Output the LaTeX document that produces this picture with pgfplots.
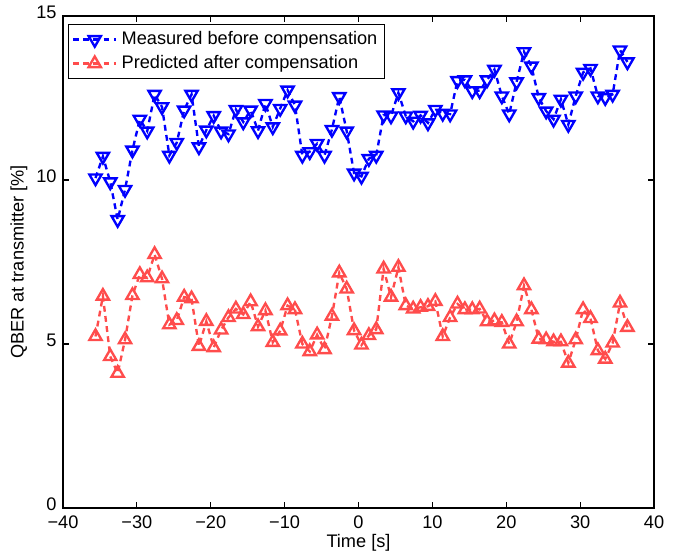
\documentclass[border=0pt]{standalone}
\usepackage{fontspec}
\setmainfont{Liberation Sans}
\usepackage{pgfplots}
\usepackage{pgfplotstable}
\pgfplotsset{compat=1.18}
\definecolor{mblue}{rgb}{0,0,1}
\definecolor{mred}{rgb}{1,0.3,0.3}
\pgfplotstableread{
x y
-35.6 10.06
-34.6 10.72
-33.6 9.94
-32.6 8.79
-31.6 9.71
-30.6 10.91
-29.6 11.85
-28.6 11.49
-27.6 12.61
-26.6 12.23
-25.6 10.75
-24.6 11.14
-23.6 12.13
-22.6 12.61
-21.6 11.01
-20.6 11.52
-19.6 11.96
-18.6 11.49
-17.6 11.40
-16.6 12.15
-15.6 11.77
-14.6 12.13
-13.6 11.50
-12.6 12.33
-11.6 11.62
-10.6 12.18
-9.6 12.74
-8.6 12.28
-7.6 10.75
-6.6 10.86
-5.6 11.11
-4.6 10.75
-3.6 11.54
-2.6 12.54
-1.6 11.49
-0.6 10.21
0.4 10.11
1.4 10.65
2.4 10.75
3.4 11.98
4.4 11.95
5.4 12.66
6.4 11.95
7.4 11.79
8.4 11.97
9.4 11.74
10.4 12.15
11.4 12.03
12.4 12.01
13.4 13.03
14.4 13.05
15.4 12.72
16.4 12.72
17.4 13.05
18.4 13.37
19.4 12.56
20.4 12.01
21.4 12.99
22.4 13.91
23.4 13.47
24.4 12.51
25.4 12.10
26.4 11.85
27.4 12.46
28.4 11.69
29.4 12.56
30.4 13.28
31.4 13.40
32.4 12.56
33.4 12.51
34.4 12.61
35.4 13.96
36.4 13.60
}\measured
\pgfplotstableread{
x y
-35.6 5.23
-34.6 6.46
-33.6 4.62
-32.6 4.11
-31.6 5.13
-30.6 6.48
-29.6 7.12
-28.6 7.02
-27.6 7.73
-26.6 6.99
-25.6 5.59
-24.6 5.72
-23.6 6.43
-22.6 6.38
-21.6 4.93
-20.6 5.69
-19.6 4.89
-18.6 5.43
-17.6 5.81
-16.6 6.07
-15.6 5.90
-14.6 6.29
-13.6 5.53
-12.6 6.02
-11.6 5.05
-10.6 5.40
-9.6 6.17
-8.6 6.05
-7.6 5.00
-6.6 4.77
-5.6 5.28
-4.6 4.83
-3.6 5.85
-2.6 7.17
-1.6 6.68
-0.6 5.41
0.4 4.97
1.4 5.26
2.4 5.44
3.4 7.29
4.4 6.43
5.4 7.34
6.4 6.17
7.4 6.07
8.4 6.12
9.4 6.15
10.4 6.30
11.4 5.23
12.4 5.81
13.4 6.22
14.4 6.05
15.4 6.05
16.4 6.07
17.4 5.68
18.4 5.71
19.4 5.66
20.4 5.00
21.4 5.68
22.4 6.78
23.4 6.05
24.4 5.15
25.4 5.13
26.4 5.07
27.4 5.07
28.4 4.42
29.4 5.13
30.4 6.05
31.4 5.78
32.4 4.80
33.4 4.54
34.4 5.03
35.4 6.25
36.4 5.51
}\predicted
\begin{document}
\begin{tikzpicture}
\begin{axis}[
  scale only axis,
  width=325.05pt, height=270.6pt,
  xmin=-40, xmax=40, ymin=0, ymax=15,
  xtick={-40,-30,-20,-10,0,10,20,30,40},
  xticklabels={−40,−30,−20,−10,0,10,20,30,40},
  ytick={0,5,10,15},
  yticklabels={0,5,10,15},
  tick align=inside,
  tick pos=both,
  major tick length=3.5pt,
  axis line style={line width=0.8pt},
  every tick/.style={black, line width=0.6pt},
  tick label style={font=\fontsize{10}{12}\selectfont},
  yticklabel style={yshift=2.2pt},
  xticklabel style={yshift=-0.8pt},
  xlabel={Time [s]},
  ylabel={QBER at transmitter [\%]},
  label style={font=\fontsize{10}{12}\selectfont},
  xlabel style={yshift=4pt},
  ylabel style={yshift=-2pt},
  legend style={at={(0.0085,0.984)}, anchor=north west, draw=black, line width=0.6pt,
    font=\fontsize{10}{12}\selectfont, inner sep=1.8pt, row sep=0pt,
    nodes={inner sep=2.2pt}},
  legend cell align=left,
  legend image code/.code={
    \draw[mark repeat=2,mark phase=2] plot coordinates {(0cm,0cm) (0.42cm,0cm) (0.84cm,0cm)};
  },
]
\addplot[color=mblue, line width=1.3pt, dash pattern=on 3.2pt off 2.4pt,
  mark=triangle, mark size=3.9pt, mark options={solid, rotate=180, line width=1.3pt}]
  table[x=x,y=y] {\measured};
\addlegendentry{Measured before compensation}
\addplot[color=mred, line width=1.3pt, dash pattern=on 3.2pt off 2.4pt,
  mark=triangle, mark size=3.9pt, mark options={solid, line width=1.3pt}]
  table[x=x,y=y] {\predicted};
\addlegendentry{Predicted after compensation}
\end{axis}
\pgfresetboundingbox
\path (current axis.south west) ++(-34.65pt,-23.1pt) rectangle ++(373.45pt,302.5pt);
\end{tikzpicture}
\end{document}
